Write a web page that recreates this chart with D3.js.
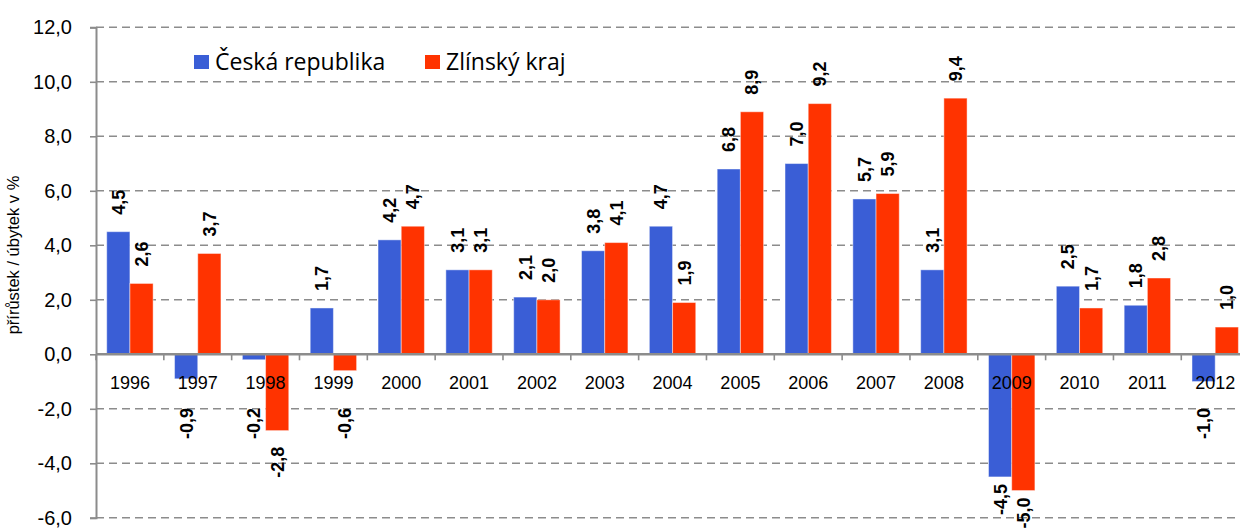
<!DOCTYPE html>
<html>
<head>
<meta charset="utf-8">
<script src="https://cdn.jsdelivr.net/npm/d3@7"></script>
<style>
    body { margin: 0; background: #fff; }
    svg { display: block; font-family: "Liberation Sans", Arial, sans-serif; }
</style>
</head>
<body>
<svg id="chart" width="1240" height="528"></svg>
<script>
// data
const years = ["1996", "1997", "1998", "1999", "2000", "2001", "2002", "2003", "2004",
    "2005", "2006", "2007", "2008", "2009", "2010", "2011", "2012"];
const ceskaRepublika = [4.5, -0.9, -0.2, 1.7, 4.2, 3.1, 2.1, 3.8, 4.7, 6.8, 7.0, 5.7, 3.1, -4.5, 2.5, 1.8, -1.0];
const zlinskyKraj = [2.6, 3.7, -2.8, -0.6, 4.7, 3.1, 2.0, 4.1, 1.9, 8.9, 9.2, 5.9, 9.4, -5.0, 1.7, 2.8, 1.0];
const seriesNames = ["Česká republika", "Zlínský kraj"];
const yTicks = [-6, -4, -2, 0, 2, 4, 6, 8, 10, 12];

const colors = ["#3a5ed6", "#ff3300"];
const margin = { top: 27.3, left: 96, bottom: 10.2 };
const step = 67.83;

const svg = d3.select("#chart");
const height = +svg.attr("height");

const locale = d3.formatLocale({ decimal: ",", thousands: " ", grouping: [3], currency: ["", ""], minus: "-" });
const fmt = locale.format(".1f");

const x = d3.scaleBand()
    .domain(years)
    .range([margin.left, margin.left + step * years.length])
    .padding(0);

const xInner = d3.scaleBand()
    .domain([0, 1])
    .range([0, x.bandwidth()])
    .paddingInner(0)
    .paddingOuter(0.462);

const y = d3.scaleLinear()
    .domain([-6, 12])
    .range([height - margin.bottom, margin.top]);

const plotRight = x.range()[1];

// grid
svg.append("g")
    .selectAll("line")
    .data(yTicks.filter(t => t !== 0))
    .join("line")
    .attr("x1", margin.left)
    .attr("x2", plotRight)
    .attr("y1", d => y(d))
    .attr("y2", d => y(d))
    .attr("stroke", "#8c8c8c")
    .attr("stroke-width", 1.6)
    .attr("stroke-dasharray", "8,5");

// y axis
const yAxis = svg.append("g")
    .attr("transform", `translate(${margin.left},0)`)
    .call(d3.axisLeft(y).tickValues(yTicks).tickSize(6).tickPadding(18).tickFormat(fmt));
yAxis.select(".domain").attr("stroke", "#8c8c8c").attr("stroke-width", 2);
yAxis.selectAll(".tick line").attr("stroke", "#8c8c8c").attr("stroke-width", 1.6);
yAxis.selectAll(".tick text")
    .attr("font-family", "'Liberation Sans', Arial, sans-serif")
    .attr("font-size", 20)
    .attr("fill", "#000");

svg.append("text")
    .attr("transform", `translate(19,255) rotate(-90)`)
    .attr("text-anchor", "middle")
    .attr("font-size", 16.5)
    .attr("fill", "#000")
    .text("přírůstek / úbytek v %");

// bars
const seriesData = [ceskaRepublika, zlinskyKraj];
const groups = svg.append("g")
    .selectAll("g")
    .data(seriesData)
    .join("g")
    .attr("fill", (d, i) => colors[i]);

groups.each(function (values, si) {
    const g = d3.select(this);
    g.selectAll("rect")
        .data(values)
        .join("rect")
        .attr("x", (d, i) => x(years[i]) + xInner(si))
        .attr("width", xInner.bandwidth())
        .attr("y", d => y(Math.max(0, d)))
        .attr("height", d => Math.abs(y(d) - y(0)))
        .attr("stroke", "#ffffff")
        .attr("stroke-opacity", 0.45)
        .attr("stroke-width", 1);

    // labels rotated, outside the bar end; small negatives go below the year labels
    g.selectAll("text")
        .data(values)
        .join("text")
        .attr("transform", (d, i) => {
            const cx = x(years[i]) + xInner(si) + xInner.bandwidth() / 2;
            let cy;
            if (d >= 0) {
                cy = y(d) - 17;
            } else {
                const end = y(d);
                cy = end > 460 ? end + 7 : Math.max(end + 16, 408);
            }
            return `translate(${cx},${cy}) rotate(-90)`;
        })
        .attr("text-anchor", d => d >= 0 ? "start" : "end")
        .attr("dy", "0.36em")
        .attr("font-size", 18)
        .attr("font-weight", "bold")
        .attr("fill", "#000")
        .text(d => fmt(d));
});

// zero line with category ticks
const xAxis = svg.append("g")
    .attr("transform", `translate(0,${y(0)})`)
    .call(d3.axisBottom(x).tickSize(0).tickPadding(22));
xAxis.select(".domain").remove();
xAxis.selectAll(".tick text")
    .attr("font-family", "'Liberation Sans', Arial, sans-serif")
    .attr("font-size", 18)
    .attr("fill", "#000");

svg.append("g")
    .selectAll("line")
    .data(d3.range(years.length + 1))
    .join("line")
    .attr("x1", i => margin.left + i * step)
    .attr("x2", i => margin.left + i * step)
    .attr("y1", y(0))
    .attr("y2", y(0) + 6)
    .attr("stroke", "#8c8c8c")
    .attr("stroke-width", 1.6);

svg.append("line")
    .attr("x1", margin.left)
    .attr("x2", plotRight)
    .attr("y1", y(0))
    .attr("y2", y(0))
    .attr("stroke", "#8c8c8c")
    .attr("stroke-width", 2.4);

// legend
const legend = svg.append("g")
    .attr("font-family", "'Open Sans', 'Noto Sans', sans-serif")
    .attr("font-size", 23);
const legendX = [194, 425];
seriesNames.forEach((name, i) => {
    legend.append("rect")
        .attr("x", legendX[i])
        .attr("y", 55)
        .attr("width", 15)
        .attr("height", 14)
        .attr("fill", colors[i]);
    legend.append("text")
        .attr("x", legendX[i] + 21)
        .attr("y", 70)
        .attr("fill", "#000")
        .text(name);
});
</script>
</body>
</html>
